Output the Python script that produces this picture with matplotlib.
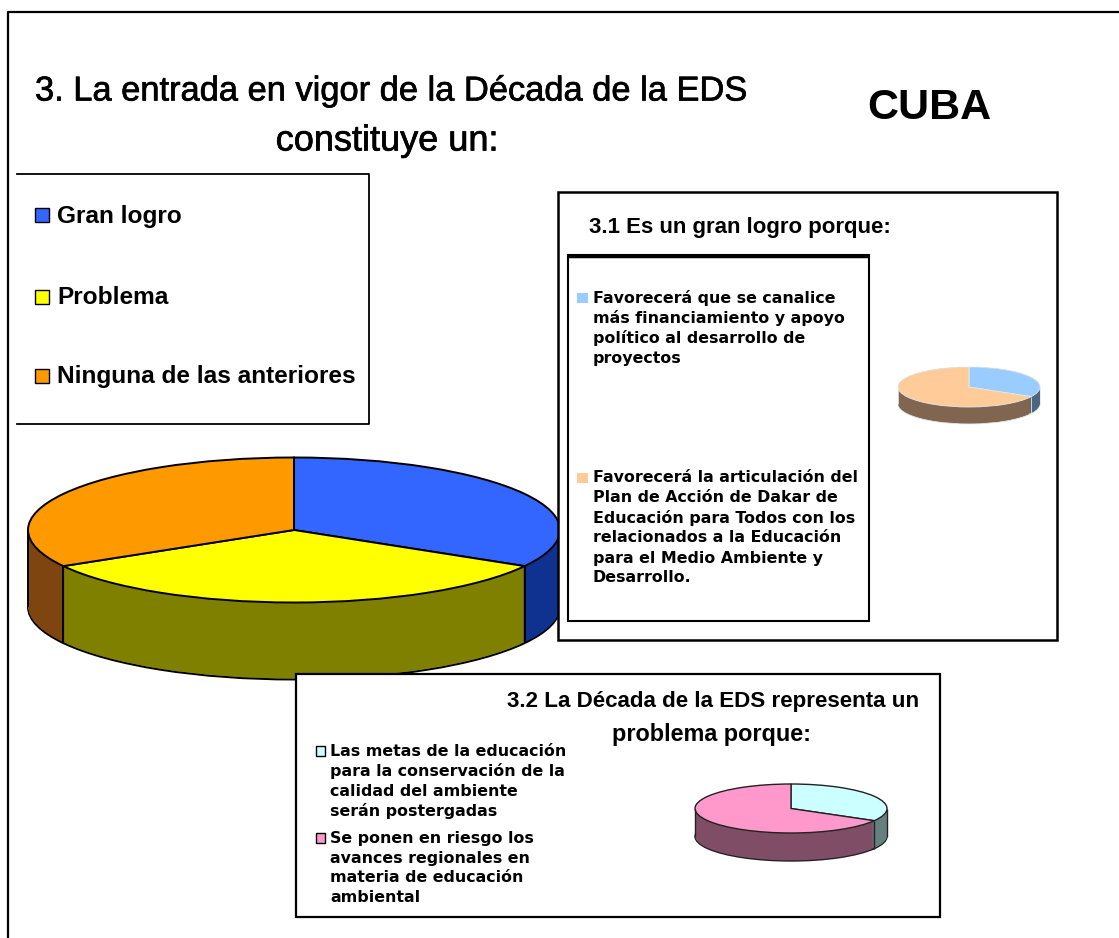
import numpy as np
import matplotlib
matplotlib.use("Agg")
import matplotlib.pyplot as plt
from matplotlib.patches import Rectangle
import matplotlib.patheffects as pe

main_labels = ["Gran logro", "Problema", "Ninguna de las anteriores"]
main_values = [33.3, 33.4, 33.3]
main_colors = ["#3366ff", "#ffff00", "#ff9900"]
main_sides = ["#0f3290", "#808000", "#7f4510"]

logro_values = [33, 67]
logro_colors = ["#99ccff", "#ffcc99"]
logro_sides = ["#4d6680", "#806650"]
logro_item1 = ["Favorecerá que se canalice", "más financiamiento y apoyo",
               "político al desarrollo de", "proyectos"]
logro_item2 = ["Favorecerá la articulación del", "Plan de Acción de Dakar de",
               "Educación para Todos con los", "relacionados a la Educación",
               "para el Medio Ambiente y", "Desarrollo."]

prob_values = [33.3, 66.7]
prob_colors = ["#ccffff", "#ff99cc"]
prob_sides = ["#668080", "#804d66"]
prob_item1 = ["Las metas de la educación", "para la conservación de la",
              "calidad del ambiente", "serán postergadas"]
prob_item2 = ["Se ponen en riesgo los", "avances regionales en",
              "materia de educación", "ambiental"]

W, H = 1119, 938
SANS = "Liberation Sans"
fig = plt.figure(figsize=(W / 100, H / 100), dpi=100, facecolor="white")


def px_axes(z):
    a = fig.add_axes([0, 0, 1, 1], zorder=z)
    a.set_xlim(0, W)
    a.set_ylim(H, 0)
    a.axis("off")
    return a


def pie3d(z, cx, cy, rx, ry, depth, values, colors, sides, lw, edge):
    a = fig.add_axes([0, 0, 1, 1], zorder=z)
    for d in np.arange(depth, -0.5, -1.0):
        a.pie(values, colors=sides, startangle=90, counterclock=False,
              center=(0, -d / ry), radius=1,
              wedgeprops=dict(linewidth=lw if d == depth else 0, edgecolor=edge))
    a.pie(values, colors=colors, startangle=90, counterclock=False,
          center=(0, 0), radius=1,
          wedgeprops=dict(linewidth=lw, edgecolor=edge))
    bounds = 90 - np.cumsum(values) / np.sum(values) * 360
    for ang in list(np.radians(bounds)) + [0.0, np.pi]:
        x, y = np.cos(ang), np.sin(ang)
        if y <= 0.001:
            a.plot([x, x], [y, y - depth / ry], color=edge, lw=lw, solid_capstyle="butt")
    a.set_aspect("auto")
    a.set_xlim((0 - cx) / rx, (W - cx) / rx)
    a.set_ylim((cy - H) / ry, cy / ry)
    a.axis("off")
    a.patch.set_visible(False)
    return a


bg = px_axes(0)
# outer frame: left and top edges only
bg.plot([8, 8, W], [H, 12.5, 12.5], color="black", lw=1.6)
heavy = [pe.withStroke(linewidth=0.5, foreground="black")]
bg.text(35, 92, "3. La entrada en vigor de la Década de la EDS", family=SANS, fontsize=24.8,
        va="center", ha="left", color="black", path_effects=heavy)
bg.text(387, 141, "constituye un:", family=SANS, fontsize=26, va="center", ha="center",
        path_effects=heavy)
bg.text(929, 108, "CUBA", family=SANS, fontsize=31, weight="bold", va="center", ha="center")
# main legend box
bg.plot([17, 369, 369, 17], [174, 174, 424, 424], color="black", lw=1.3)
for lab, col, y in zip(main_labels, main_colors, [215, 297, 376]):
    bg.add_patch(Rectangle((35, y - 7), 14, 14, facecolor=col, edgecolor="black", lw=1))
    bg.text(57, y + 1, lab, family=SANS, weight="bold", fontsize=17.6, va="center", ha="left")

pie3d(1, 294, 530, 266, 72.5, 77, main_values, main_colors, main_sides, 1.4, "black")

box = px_axes(2)
# box 3.1
box.add_patch(Rectangle((558, 192), 499, 448, facecolor="white", edgecolor="black", lw=1.8))
box.add_patch(Rectangle((568, 255), 301, 366, facecolor="white", edgecolor="black", lw=1.5))
box.plot([568, 869], [256, 256], color="black", lw=2.5, solid_capstyle="butt")
box.text(589, 228, "3.1 Es un gran logro porque:", family=SANS, weight="bold", fontsize=16,
         va="center", ha="left")
item_kw = dict(family="DejaVu Sans", weight="bold", va="center", ha="left")
for i, line in enumerate(logro_item1):
    box.text(593, 298 + 20 * i, line, fontsize=11.4, **item_kw)
for i, line in enumerate(logro_item2):
    box.text(593, 478 + 20 * i, line, fontsize=11.4, **item_kw)
box.add_patch(Rectangle((577, 293), 11, 10, facecolor=logro_colors[0], edgecolor="none"))
box.add_patch(Rectangle((577, 473), 11, 10, facecolor=logro_colors[1], edgecolor="none"))
# box 3.2
box.add_patch(Rectangle((296, 674), 644, 243, facecolor="white", edgecolor="black", lw=1.6))
box.text(507, 702, "3.2 La Década de la EDS representa un", family=SANS, weight="bold",
         fontsize=16.1, va="center", ha="left")
box.text(712, 734, "problema porque:", family=SANS, weight="bold", fontsize=16.8,
         va="center", ha="center")
for i, line in enumerate(prob_item1):
    box.text(330, 751 + 20 * i, line, fontsize=11.4, **item_kw)
for i, line in enumerate(prob_item2):
    box.text(330, 838 + 20 * i, line, fontsize=11.4, **item_kw)
box.add_patch(Rectangle((316, 746), 9, 10, facecolor=prob_colors[0], edgecolor="black", lw=1))
box.add_patch(Rectangle((316, 833), 9, 10, facecolor=prob_colors[1], edgecolor="black", lw=1))

pie3d(3, 969, 387, 71, 20, 17, logro_values, logro_colors, logro_sides, 0.6, "#e8e8e8")
pie3d(3, 791, 808.5, 96, 24.5, 28, prob_values, prob_colors, prob_sides, 1.0, "#222222")

fig.savefig("out.png", dpi=100, facecolor="white")
